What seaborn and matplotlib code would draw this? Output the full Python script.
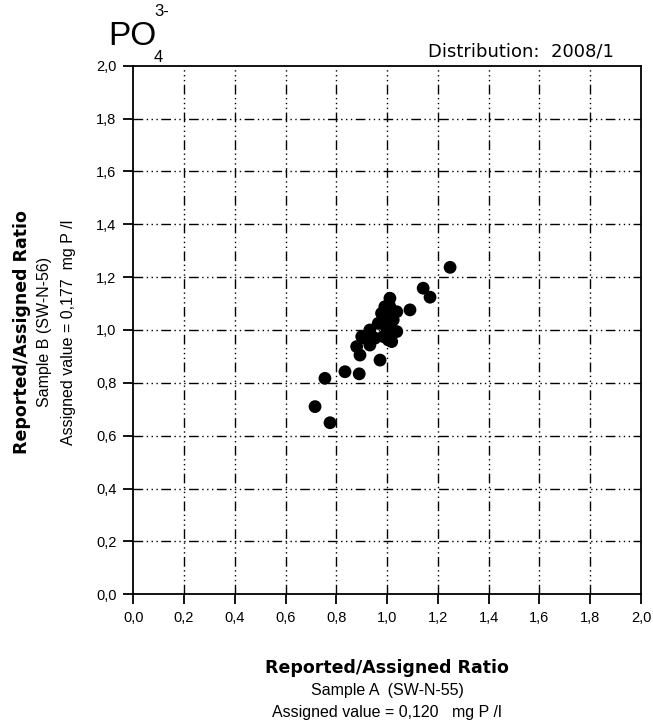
import matplotlib
matplotlib.use("Agg")
import matplotlib.pyplot as plt
import numpy as np
import seaborn as sns
import pandas as pd

# ratios
sample_a = [1.248, 1.142, 1.169, 1.011, 1.090, 0.978, 1.038, 1.024, 0.965, 0.932,
            0.998, 1.038, 0.985, 1.018, 0.900, 0.880, 0.893, 0.972, 0.932, 0.952,
            1.005, 0.913, 0.834, 0.890, 0.755, 0.716, 0.775, 1.000, 1.010, 0.990,
            0.991, 1.015]
sample_b = [1.237, 1.158, 1.124, 1.120, 1.076, 1.063, 1.069, 1.038, 1.025, 1.000,
            1.006, 0.994, 0.975, 0.956, 0.975, 0.937, 0.905, 0.886, 0.943, 0.969,
            0.962, 0.969, 0.842, 0.834, 0.817, 0.710, 0.649, 1.050, 1.090, 1.030,
            1.088, 1.000]
ticks = [0.0, 0.2, 0.4, 0.6, 0.8, 1.0, 1.2, 1.4, 1.6, 1.8, 2.0]
tick_labels = [f"{t:.1f}".replace(".", ",") for t in ticks]

df = pd.DataFrame({"a": sample_a, "b": sample_b})

sns.set_style("white")
plt.rcParams['font.family'] = ['Liberation Sans', 'DejaVu Sans']
plt.rcParams['text.color'] = 'black'
plt.rcParams['xtick.color'] = 'black'
plt.rcParams['ytick.color'] = 'black'
plt.rcParams['xtick.labelcolor'] = 'black'
plt.rcParams['ytick.labelcolor'] = 'black'

fig = plt.figure(figsize=(6.53, 7.28), dpi=100)
ax = fig.add_axes([0.2041, 0.1837, 0.7775, 0.7261])

sns.scatterplot(data=df, x="a", y="b", ax=ax, color="black", s=85,
                edgecolor="none", zorder=3, legend=False)

ax.set_xlim(0, 2)
ax.set_ylim(0, 2)
ax.set_xticks(ticks)
ax.set_yticks(ticks)
ax.set_xticklabels(tick_labels, fontsize=10.5)
ax.set_yticklabels(tick_labels, fontsize=10.5)

dash = (0, (7, 2.5, 1, 2.5, 1, 2.5, 1, 2.5))
for t in ticks[1:-1]:
    ax.axvline(t, color="black", lw=1.0, ls=dash, zorder=1)
    ax.axhline(t, color="black", lw=1.0, ls=dash, zorder=1)

for s in ax.spines.values():
    s.set_visible(True)
    s.set_color("black")
    s.set_linewidth(1.3)
ax.tick_params(axis="both", direction="out", length=7, width=1.3, color="black",
               pad=5, bottom=True, left=True, top=False, right=False)
ax.set_xlabel("")
ax.set_ylabel("")

# title pieces
fig.text(108 / 653, 1 - 45 / 728, "PO", fontsize=24, va="baseline", ha="left")
fig.text(154 / 653, 1 - 62 / 728, "4", fontsize=12, va="baseline", ha="left")
fig.text(154 / 653, 1 - 16 / 728, "3-", fontsize=12, va="baseline", ha="left")
fig.text(614 / 653, 1 - 57 / 728, "Distribution:  2008/1", fontsize=13,
         family="DejaVu Sans", va="baseline", ha="right")

bold = dict(fontsize=12.5, fontweight="bold", family="DejaVu Sans")

# x label
cx = 387 / 653
fig.text(cx, 1 - 668 / 728, "Reported/Assigned Ratio", ha="center", va="center", **bold)
fig.text(cx, 1 - 690 / 728, "Sample A  (SW-N-55)", fontsize=11.5,
         ha="center", va="center")
fig.text(cx, 1 - 712 / 728, "Assigned value = 0,120   mg P /l", fontsize=11.5,
         ha="center", va="center")

# y label
cy = 1 - 332 / 728
fig.text(22 / 653, cy, "Reported/Assigned Ratio", rotation=90,
         ha="center", va="center", **bold)
fig.text(45 / 653, cy, "Sample B (SW-N-56)", fontsize=11.5,
         rotation=90, ha="center", va="center")
fig.text(68 / 653, cy, "Assigned value = 0,177  mg P /l", fontsize=11.5,
         rotation=90, ha="center", va="center")

fig.savefig("out.png", dpi=100)
